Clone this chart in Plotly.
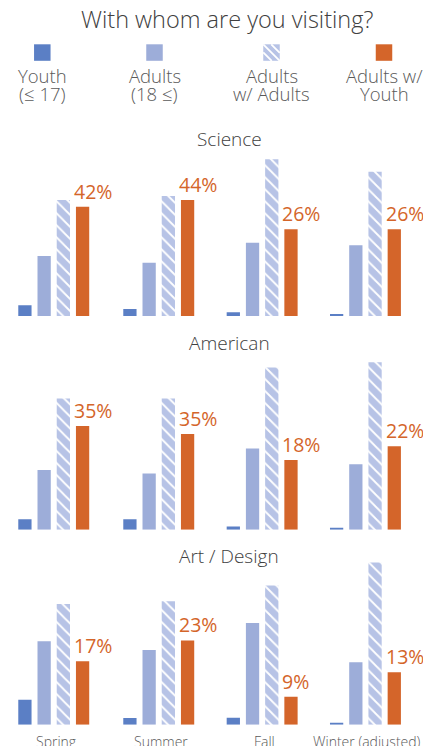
import plotly.graph_objects as go

# ---- data -------------------------------------------------------------
seasons = ["Spring", "Summer", "Fall", "Winter (adjusted)"]
panels = ["Science", "American", "Art / Design"]
series = ["Youth (≤ 17)", "Adults (18 ≤)", "Adults w/ Adults", "Adults w/ Youth"]
legend_lines = [("Youth", "(≤ 17)"), ("Adults", "(18 ≤)"),
                ("Adults", "w/ Adults"), ("Adults w/", "Youth")]

# share of visitors (%), one row per museum type, one column per season
youth = [[4.1, 2.7, 1.1, 0.6],
         [3.5, 3.8, 0.8, 0.4],
         [6.7, 1.8, 2.2, 0.3]]
adults = [[23.1, 20.2, 22.0, 21.2],
          [20.2, 20.6, 21.0, 17.3],
          [22.4, 20.4, 32.7, 15.5]]
adults_w_adults = [[44.6, 45.5, 47.0, 43.3],
                   [44.3, 48.0, 41.9, 44.2],
                   [32.4, 33.7, 44.8, 40.3]]
adults_w_youth = [[42, 44, 26, 26],
                  [35, 35, 18, 22],
                  [17, 23, 9, 13]]

# value at the top of each season's plotting area
y_top = [[69.2, 68.3, 54.0, 54.0],
         [60.8, 65.9, 46.5, 47.5],
         [48.3, 49.1, 57.9, 44.7]]

# ---- styling / layout -------------------------------------------------
W, H = 423, 746
FONT = "Open Sans"
colors = ["#5b7fc5", "#9dadd9", "#b7c3e6", "#d4652a"]
patterns = ["", "", "\\", ""]
ORANGE = "#d4652a"
DARK = "#404040"
GREY = "#595959"
BARGAP = 0.31

col_left_px = [15.3, 120.3, 223.7, 327.0]
col_width_px = 76.9
row_base_px = [316.0, 529.7, 724.7]
row_height_px = 180.0


def px(x):
    return x / W


def py(y):
    return 1 - y / H


fig = go.Figure()
annotations = []
shapes = []
layout_axes = {}

for r, panel in enumerate(panels):
    for c, season in enumerate(seasons):
        n = r * 4 + c + 1
        vals = [youth[r][c], adults[r][c], adults_w_adults[r][c], adults_w_youth[r][c]]
        for i, name in enumerate(series):
            marker = dict(color=colors[i], line=dict(width=0))
            if patterns[i]:
                marker["pattern"] = dict(shape=patterns[i], fgcolor="white",
                                         bgcolor=colors[i], fillmode="replace",
                                         size=8.5, solidity=0.22)
            fig.add_trace(go.Bar(
                x=[name], y=[vals[i]], name=name,
                xaxis=f"x{n}", yaxis=f"y{n}",
                marker=marker, showlegend=False,
                hovertemplate="%{x}: %{y}%<extra>" + panel + " / " + season + "</extra>",
            ))
        x0 = col_left_px[c]
        layout_axes[f"xaxis{n}"] = dict(
            domain=[px(x0), px(x0 + col_width_px)], range=[-0.5, 3.5],
            categoryorder="array", categoryarray=series,
            anchor=f"y{n}", type="category", visible=False, fixedrange=True)
        base = row_base_px[r]
        layout_axes[f"yaxis{n}"] = dict(
            domain=[py(base), py(base - row_height_px)],
            anchor=f"x{n}", range=[0, y_top[r][c]], visible=False, fixedrange=True)

        # percentage label, left-aligned with the "Adults w/ Youth" bar
        annotations.append(dict(
            xref=f"x{n}", yref=f"y{n}",
            x=3 - (1 - BARGAP) / 2, y=adults_w_youth[r][c],
            xanchor="left", yanchor="bottom", showarrow=False,
            text=f"{adults_w_youth[r][c]}%", xshift=-4, yshift=0,
            font=dict(family=FONT, size=19.5, color=ORANGE)))

# panel titles
panel_title_mid_px = [139.0, 342.6, 555.6]
for r, panel in enumerate(panels):
    annotations.append(dict(
        xref="paper", yref="paper", x=px(229.2), y=py(panel_title_mid_px[r]),
        xanchor="center", yanchor="middle", showarrow=False, text=panel,
        font=dict(family=FONT, size=19, color=DARK, weight=300)))

# season labels under the bottom row
season_mid_px = 741.0
for c, season in enumerate(seasons):
    annotations.append(dict(
        xref="paper", yref="paper",
        x=px(col_left_px[c] + col_width_px / 2 + 2), y=py(season_mid_px),
        xanchor="center", yanchor="middle", showarrow=False, text=season,
        font=dict(family=FONT, size=14, color=GREY, weight=300)))

# chart title
annotations.append(dict(
    xref="paper", yref="paper", x=px(226.7), y=py(19.0),
    xanchor="center", yanchor="middle", showarrow=False,
    text="With whom are you visiting?",
    font=dict(family=FONT, size=23.5, color=DARK, weight=300)))

# legend: swatch above a two-line caption
legend_x_px = [42.3, 154.5, 271.5, 384.0]
SW = 16.5
sw_top = 44.3
for i, (l1, l2) in enumerate(legend_lines):
    cx = legend_x_px[i]
    x0, x1 = cx - SW / 2, cx + SW / 2
    y0, y1 = sw_top, sw_top + SW
    shapes.append(dict(type="rect", xref="paper", yref="paper",
                       x0=px(x0), x1=px(x1), y0=py(y1), y1=py(y0),
                       fillcolor=colors[i], line=dict(width=0)))
    if patterns[i]:
        step = 8.0
        segs = [((x0, y0), (x1, y1)),
                ((x0 + step, y0), (x1, y1 - step)),
                ((x0, y0 + step), (x1 - step, y1))]
        path = " ".join(f"M{px(a[0])},{py(a[1])} L{px(b[0])},{py(b[1])}" for a, b in segs)
        shapes.append(dict(type="path", xref="paper", yref="paper", path=path,
                           line=dict(color="white", width=1.8)))
    for line_txt, mid in ((l1, 75.4), (l2, 93.7)):
        annotations.append(dict(
            xref="paper", yref="paper", x=px(cx), y=py(mid),
            xanchor="center", yanchor="middle", showarrow=False, text=line_txt,
            font=dict(family=FONT, size=18.5, color=GREY, weight=300)))

fig.update_layout(
    width=W, height=H,
    margin=dict(l=0, r=0, t=0, b=0),
    paper_bgcolor="white", plot_bgcolor="white",
    barmode="overlay", bargap=BARGAP,
    annotations=annotations, shapes=shapes,
    font=dict(family=FONT, color=GREY),
    **layout_axes,
)

fig.write_html("out.html")
